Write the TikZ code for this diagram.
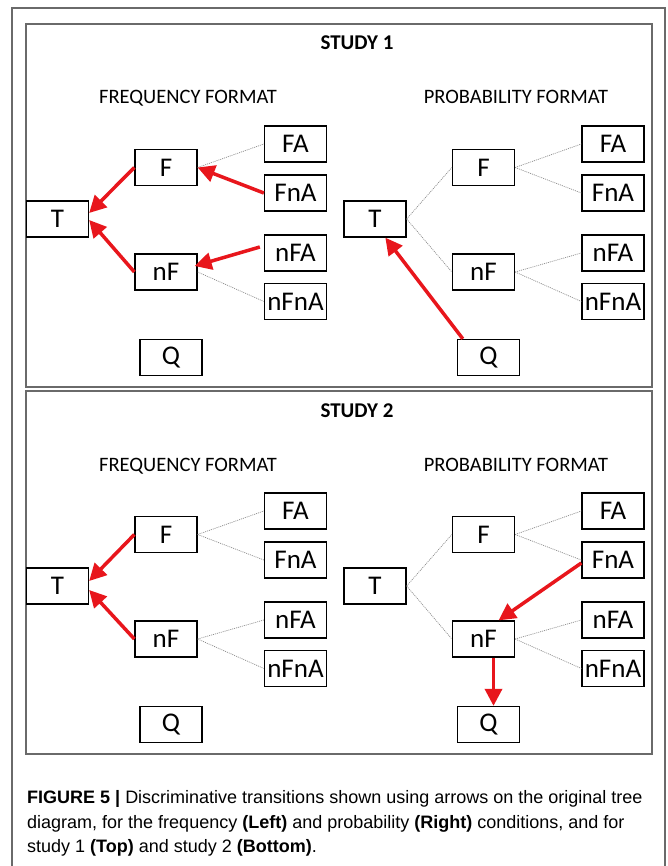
\documentclass[tikz,border=0pt]{standalone}
\usepackage{fontspec}
\usetikzlibrary{arrows.meta,calc}
\newfontfamily\carlito{Carlito}
\newfontfamily\capfont{Liberation Sans}
\definecolor{arrred}{HTML}{E8161C}
\definecolor{frameg}{HTML}{6A6A6A}
\newcommand\mktree[3]{%
  \node[bx] (#1T) at (#2,#3) {T};
  \node[bx] (#1F) at ({#2+108.5},{#3-51.5}) {F};
  \node[bx] (#1nF) at ({#2+108.5},{#3+53}) {nF};
  \node[bx] (#1FA) at ({#2+238},{#3-75}) {FA};
  \node[bx] (#1FnA) at ({#2+238},{#3-26}) {FnA};
  \node[bx] (#1nFA) at ({#2+238},{#3+34}) {nFA};
  \node[bx] (#1nFnA) at ({#2+238},{#3+82.5}) {nFnA};
  \node[bx] (#1Q) at ({#2+113.5},{#3+138.5}) {Q};
}
\begin{document}
\begin{tikzpicture}[x=1pt,y=-1pt,
  bx/.style={draw,line width=1.3pt,minimum width=62pt,minimum height=36pt,inner sep=0pt,font=\carlito\fontsize{27}{30}\selectfont},
  dotl/.style={draw=gray!90,line width=0.7pt,dash pattern=on 1pt off 1pt},
  redarr/.style={draw=arrred,line width=3.5pt,-{Triangle[length=17pt,width=17pt]}},
  panel/.style={draw=frameg,line width=1.3pt},
  ttl/.style={anchor=base,inner sep=0pt,font=\carlito\bfseries\fontsize{21}{24}\selectfont},
  fmt/.style={anchor=base,inner sep=0pt,font=\carlito\fontsize{20.5}{24}\selectfont},
  capl/.style={anchor=base west,inner sep=0pt,font=\capfont\fontsize{18}{22}\selectfont}]
\useasboundingbox (0,0) rectangle (667,866);
\fill[white] (0,0) rectangle (667,866);
% outer frame
\draw[draw=frameg,line width=1.2pt] (12,870) -- (12,8) -- (665,8) -- (665,870);
% panels
\draw[panel] (26,24) rectangle (652,387);
\draw[panel] (26,391) rectangle (652,754);
% titles
\node[ttl] (t1) at (357,50) {STUDY 1};
\node[ttl] (t2) at (357,417) {STUDY 2};
\node[fmt] (f1) at (188,104) {FREQUENCY FORMAT};
\node[fmt] (p1) at (516,104) {PROBABILITY FORMAT};
\node[fmt] (f2) at (188,471) {FREQUENCY FORMAT};
\node[fmt] (p2) at (516,471) {PROBABILITY FORMAT};
% trees
\mktree{a}{57.5}{219}
\mktree{b}{375}{219}
\mktree{c}{57.5}{586}
\mktree{d}{375}{586}
% panel 1 left
\draw[dotl] (aF.east) -- (aFA.west);
\draw[dotl] (anF.east) -- (anFnA.west);
\draw[redarr] (aF.west) -- ($(aT.east)+(0,-6)$);
\draw[redarr] (anF.west) -- ($(aT.east)+(0,1)$);
\draw[redarr] (aFnA.west) -- (aF.east);
\draw[redarr] ($(anFA.west)+(-4,-6)$) -- ($(anF.east)+(-3,-6)$);
% panel 1 right
\draw[dotl] (bT.east) -- (bF.west);
\draw[dotl] (bT.east) -- (bnF.west);
\draw[dotl] (bF.east) -- (bFA.west);
\draw[dotl] (bF.east) -- (bFnA.west);
\draw[dotl] (bnF.east) -- (bnFA.west);
\draw[dotl] (bnF.east) -- (bnFnA.west);
\draw[redarr] (bQ.144) -- (bT.-61);
% panel 2 left
\draw[dotl] (cF.east) -- (cFA.west);
\draw[dotl] (cF.east) -- (cFnA.west);
\draw[dotl] (cnF.east) -- (cnFA.west);
\draw[dotl] (cnF.east) -- (cnFnA.west);
\draw[redarr] (cF.west) -- ($(cT.east)+(0,-5)$);
\draw[redarr] (cnF.west) -- ($(cT.east)+(0,4)$);
% panel 2 right
\draw[dotl] (dT.east) -- (dF.west);
\draw[dotl] (dT.east) -- (dnF.west);
\draw[dotl] (dF.east) -- (dFA.west);
\draw[dotl] (dF.east) -- (dFnA.west);
\draw[dotl] (dnF.east) -- (dnFA.west);
\draw[dotl] (dnF.east) -- (dnFnA.west);
\draw[redarr] ($(dFnA.west)+(0,3)$) -- (dnF.51);
\draw[redarr] ($(dnF.south)+(10,0)$) -- ($(dQ.north)+(5,0)$);
% caption
\node[capl] (c1) at (27,803) {\textbf{FIGURE 5 |} Discriminative transitions shown using arrows on the original tree};
\node[capl] (c2) at (27,828) {diagram, for the frequency \textbf{(Left)} and probability \textbf{(Right)} conditions, and for};
\node[capl] (c3) at (27,852) {study 1 \textbf{(Top)} and study 2 \textbf{(Bottom)}.};
\end{tikzpicture}
\end{document}
